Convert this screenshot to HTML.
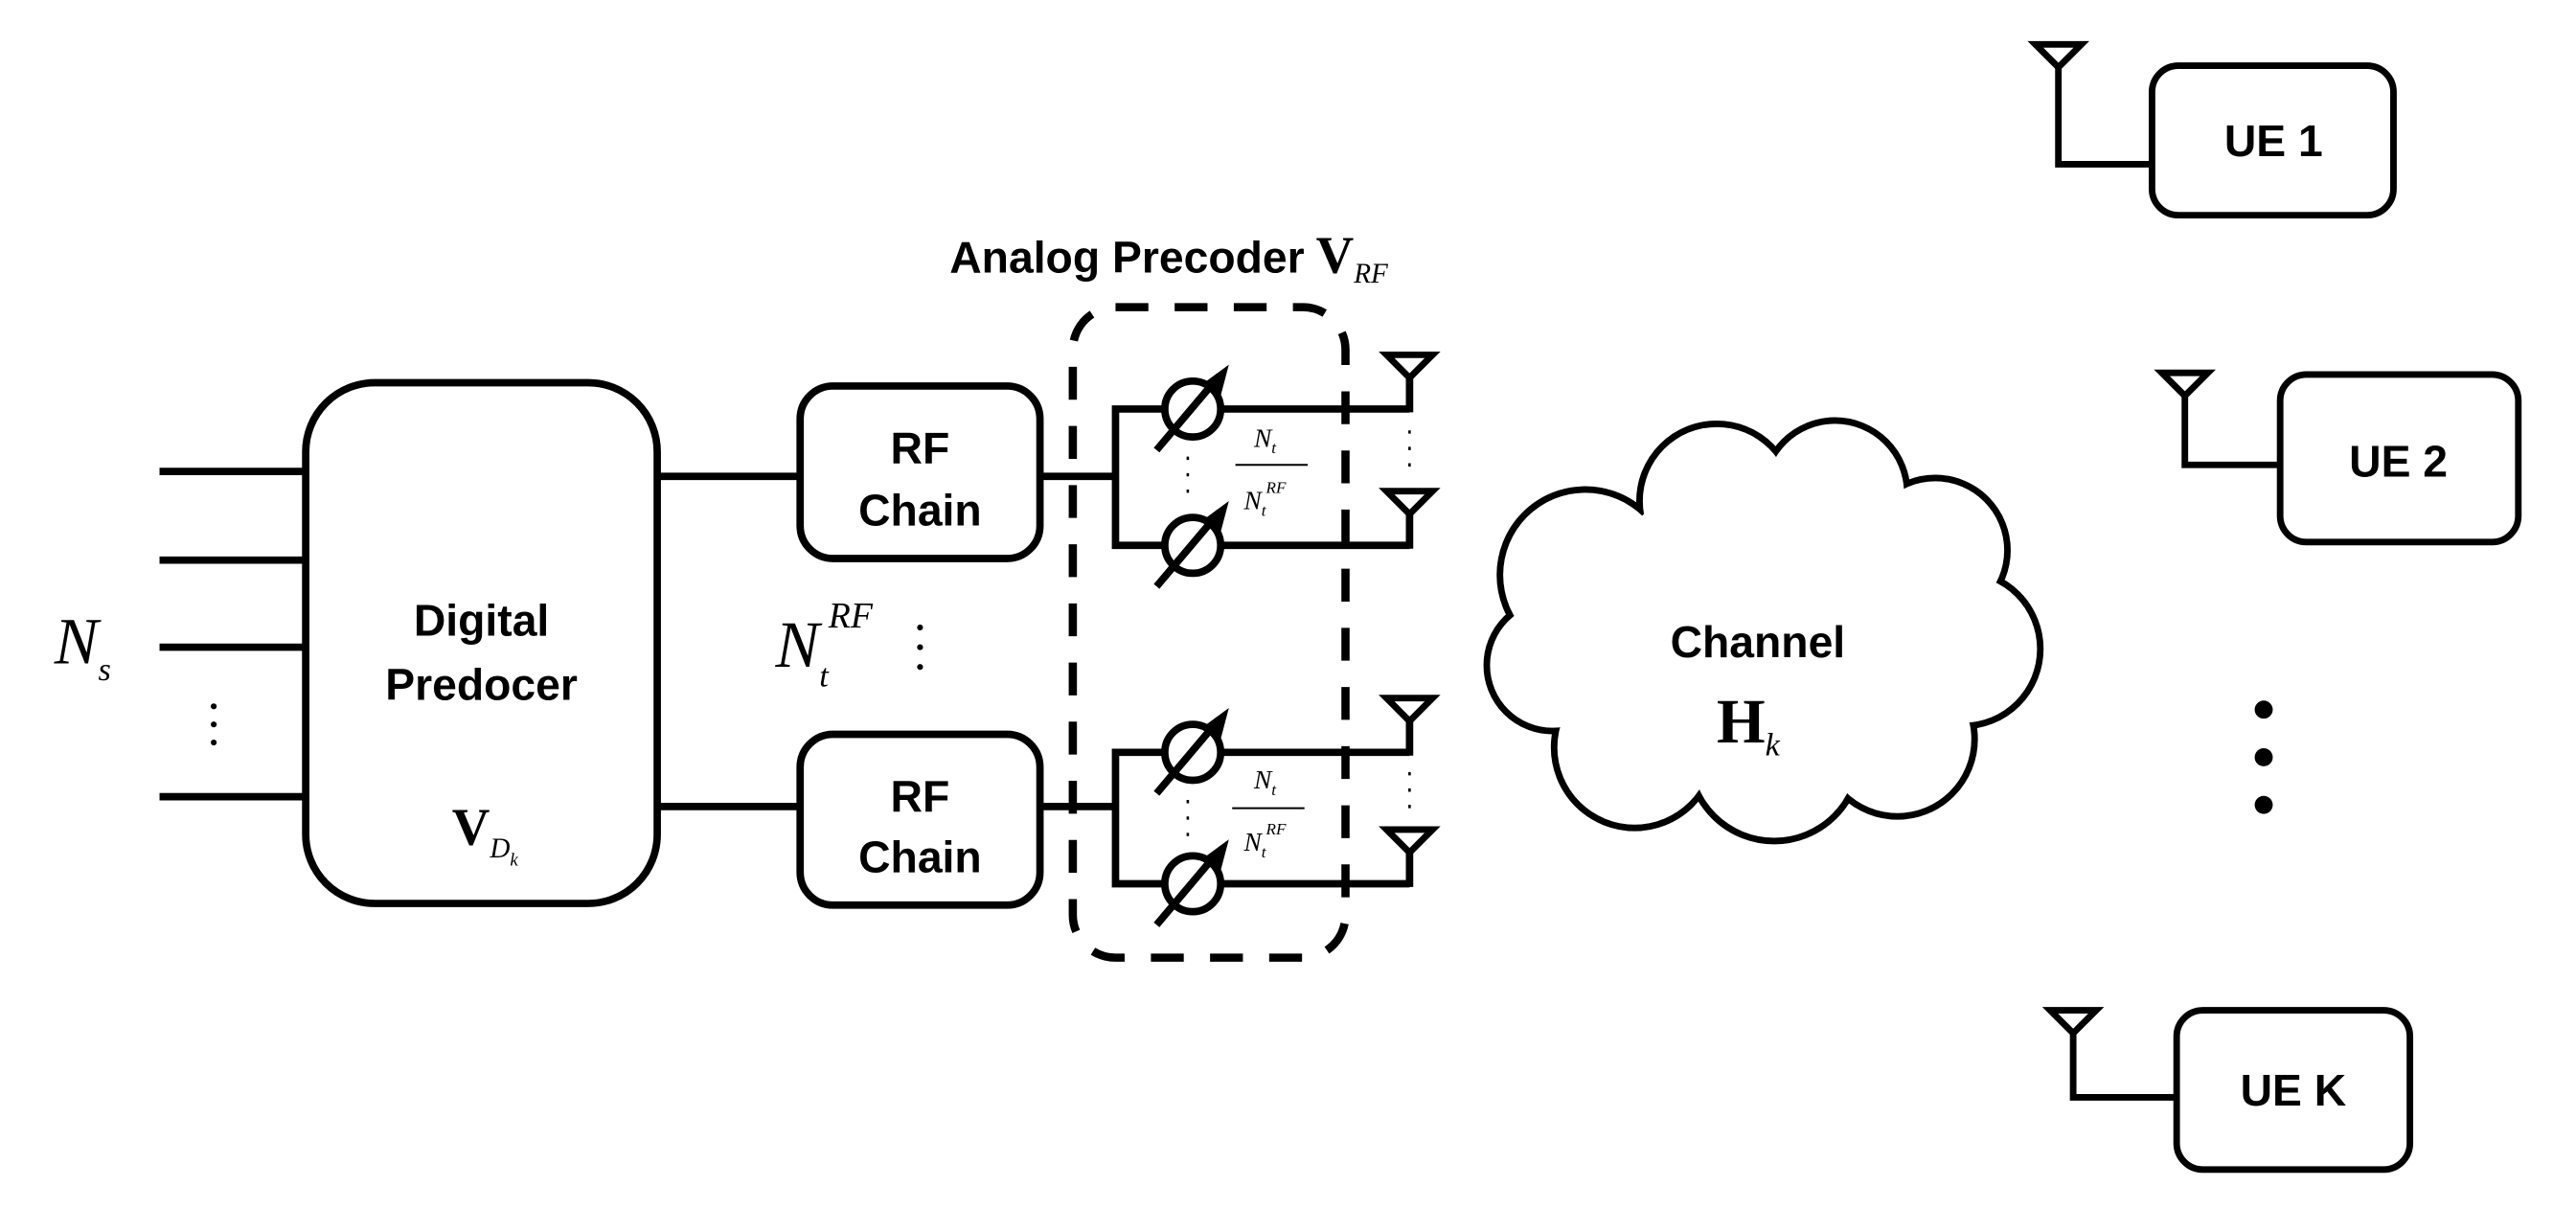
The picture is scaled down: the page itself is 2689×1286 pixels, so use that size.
<!DOCTYPE html>
<html><head><meta charset="utf-8"><style>
html,body{margin:0;padding:0;background:#fff;}
svg{display:block;}
.s{font-family:"Liberation Sans","NanumGothic",sans-serif;font-weight:bold;}
.m{font-family:"Liberation Serif",serif;font-style:italic;}
.b{font-family:"Liberation Serif",serif;font-weight:bold;}
</style></head><body>
<svg width="2689" height="1286" viewBox="0 0 1568 750" xmlns="http://www.w3.org/2000/svg">
<defs>
<g id="ps">
 <circle cx="0" cy="0" r="17" fill="#fff" stroke="#000" stroke-width="4.5"/>
 <line x1="-22" y1="25" x2="16" y2="-20" stroke="#000" stroke-width="4.5"/>
 <polygon points="22,-27 7,-16 17,-8" fill="#000"/>
</g>
<g id="ant">
 <polygon points="-14,0 14,0 0,14" fill="#fff" stroke="#000" stroke-width="4"/>
</g>
</defs>
<rect width="1568" height="750" fill="#fff"/>
<g stroke="#000" stroke-width="4.5" fill="none">
 <line x1="97" y1="287" x2="186" y2="287"/>
 <line x1="97" y1="341" x2="186" y2="341"/>
 <line x1="97" y1="394" x2="186" y2="394"/>
 <line x1="97" y1="485" x2="186" y2="485"/>
 <rect x="186" y="233" width="214" height="317" rx="42" fill="#fff"/>
 <line x1="400" y1="290" x2="487" y2="290"/>
 <line x1="400" y1="491" x2="487" y2="491"/>
 <rect x="487" y="235" width="146" height="105" rx="20" fill="#fff"/>
 <rect x="487" y="447" width="146" height="104" rx="20" fill="#fff"/>
 <polyline points="633,290 679,290"/>
 <polyline points="858,249 679,249 679,332 858,332"/>
 <polyline points="633,491 679,491"/>
 <polyline points="858,458 679,458 679,538 858,538"/>
 <line x1="858" y1="230" x2="858" y2="251"/>
 <line x1="858" y1="313" x2="858" y2="334"/>
 <line x1="858" y1="439" x2="858" y2="460"/>
 <line x1="858" y1="519" x2="858" y2="540"/>
 <rect x="653" y="187" width="166" height="396" rx="26" stroke-width="5" stroke-dasharray="20 16"/>
</g>
<use href="#ps" x="726" y="249"/>
<use href="#ps" x="726" y="332"/>
<use href="#ps" x="726" y="458"/>
<use href="#ps" x="726" y="538"/>
<use href="#ant" x="858" y="216"/>
<use href="#ant" x="858" y="299"/>
<use href="#ant" x="858" y="425"/>
<use href="#ant" x="858" y="505"/>
<g stroke="#000" stroke-width="1.5" stroke-dasharray="2 8">
 <line x1="723" y1="278" x2="723" y2="305"/>
 <line x1="723" y1="487" x2="723" y2="514"/>
 <line x1="858" y1="262" x2="858" y2="292"/>
 <line x1="858" y1="470" x2="858" y2="500"/>
</g>
<g fill="#000">
 <circle cx="130" cy="430" r="1.8"/><circle cx="130" cy="441" r="1.8"/><circle cx="130" cy="452" r="1.8"/>
 <circle cx="560" cy="382" r="1.8"/><circle cx="560" cy="394" r="1.8"/><circle cx="560" cy="406" r="1.8"/>
 <circle cx="1378" cy="432" r="5.5"/><circle cx="1378" cy="461" r="5.5"/><circle cx="1378" cy="490" r="5.5"/>
</g>
<g class="m" font-size="16" fill="#000" text-anchor="middle">
 <text x="770" y="272">N<tspan font-size="10" dy="4">t</tspan></text>
 <line x1="752" y1="283" x2="796" y2="283" stroke="#000" stroke-width="1.2"/>
 <text x="770" y="310">N<tspan font-size="10" dy="4">t</tspan><tspan font-size="10" dy="-14">RF</tspan></text>
 <text x="770" y="480">N<tspan font-size="10" dy="4">t</tspan></text>
 <line x1="750" y1="492" x2="794" y2="492" stroke="#000" stroke-width="1.2"/>
 <text x="770" y="518">N<tspan font-size="10" dy="4">t</tspan><tspan font-size="10" dy="-14">RF</tspan></text>
</g>
<text class="m" x="33" y="404" font-size="40">N<tspan font-size="20" dy="10">s</tspan></text>
<text class="m" x="472" y="406" font-size="40">N<tspan font-size="20" dy="12">t</tspan><tspan font-size="22" dy="-36">RF</tspan></text>
<g class="s" font-size="27" text-anchor="middle" fill="#000">
 <text x="293" y="387">Digital</text>
 <text x="293" y="426">Predocer</text>
 <text x="560" y="282">RF</text>
 <text x="560" y="320">Chain</text>
 <text x="560" y="494">RF</text>
 <text x="560" y="531">Chain</text>
 <text x="1384" y="95">UE 1</text>
 <text x="1460" y="290">UE 2</text>
 <text x="1396" y="673">UE K</text>
</g>
<text class="s" x="578" y="166" font-size="27">Analog Precoder</text>
<text class="b" x="801" y="166" font-size="32">V<tspan class="m" font-weight="normal" font-size="17" dy="6">RF</tspan></text>
<text class="b" x="275" y="514" font-size="32">V<tspan class="m" font-weight="normal" font-size="17" dy="8">D</tspan><tspan class="m" font-weight="normal" font-size="11" dy="5">k</tspan></text>
<g>
 <g fill="none" stroke="#000" stroke-width="8">
  <circle cx="965" cy="350" r="50"/><circle cx="1045" cy="305" r="45"/><circle cx="1117" cy="300" r="42"/>
  <circle cx="1178" cy="335" r="42"/><circle cx="1195" cy="395" r="45"/><circle cx="1155" cy="450" r="45"/>
  <circle cx="1080" cy="460" r="50"/><circle cx="995" cy="455" r="47"/><circle cx="945" cy="405" r="38"/>
 </g>
 <g fill="#fff">
  <circle cx="965" cy="350" r="50"/><circle cx="1045" cy="305" r="45"/><circle cx="1117" cy="300" r="42"/>
  <circle cx="1178" cy="335" r="42"/><circle cx="1195" cy="395" r="45"/><circle cx="1155" cy="450" r="45"/>
  <circle cx="1080" cy="460" r="50"/><circle cx="995" cy="455" r="47"/><circle cx="945" cy="405" r="38"/>
  <circle cx="1070" cy="385" r="100"/>
 </g>
</g>
<g class="s" font-size="27" text-anchor="middle" fill="#000"><text x="1070" y="400">Channel</text></g>
<text class="b" x="1045" y="452" font-size="38">H<tspan class="m" font-weight="normal" font-size="20" dy="8">k</tspan></text>
<g stroke="#000" stroke-width="4" fill="none">
 <rect x="1310" y="40" width="147" height="91" rx="16"/>
 <polyline points="1253,40 1253,100 1310,100"/>
 <rect x="1388" y="228" width="145" height="102" rx="16"/>
 <polyline points="1330,240 1330,283 1388,283"/>
 <rect x="1325" y="615" width="142" height="97" rx="16"/>
 <polyline points="1262,628 1262,668 1325,668"/>
</g>
<use href="#ant" x="1253" y="27"/>
<use href="#ant" x="1330" y="227"/>
<use href="#ant" x="1262" y="615"/>
</svg>
</body></html>
